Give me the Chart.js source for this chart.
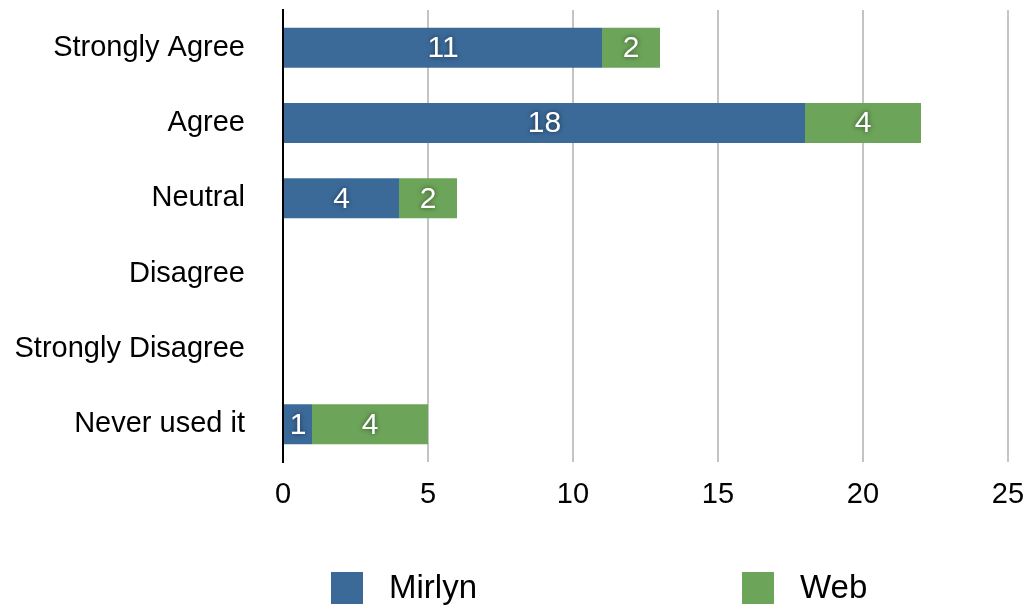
<!DOCTYPE html>
<html>
<head>
<meta charset="utf-8">
<script src="https://cdn.jsdelivr.net/npm/chart.js@4/dist/chart.umd.min.js"></script>
<style>
  html, body { margin: 0; padding: 0; background: #ffffff; }
  #wrap { width: 1026px; height: 608px; position: relative; }
</style>
</head>
<body>
<div id="wrap"><canvas id="grafico"></canvas></div>
<script>
// ---- datos del gráfico ----
const categorias = ['Strongly Agree', 'Agree', 'Neutral', 'Disagree', 'Strongly Disagree', 'Never used it'];
const valoresMirlyn = [11, 18, 4, 0, 0, 1];
const valoresWeb = [2, 4, 2, 0, 0, 4];
const ticksX = [0, 5, 10, 15, 20, 25];

const AZUL = 'rgb(59,106,153)';
const VERDE = 'rgb(108,164,89)';
const FUENTE = '"Liberation Sans", Arial, Helvetica, sans-serif';

// etiquetas blancas dentro de cada segmento
const etiquetasBarras = {
    id: 'etiquetasBarras',
    afterDatasetsDraw(chart) {
        const ctx = chart.ctx;
        ctx.save();
        ctx.font = '30px ' + FUENTE;
        ctx.fillStyle = '#ffffff';
        ctx.textAlign = 'center';
        ctx.textBaseline = 'middle';
        ctx.shadowColor = 'rgba(0,0,0,0.55)';
        ctx.shadowBlur = 5;
        chart.data.datasets.forEach((ds, i) => {
            chart.getDatasetMeta(i).data.forEach((bar, j) => {
                const v = ds.data[j];
                if (!v) return;
                const c = bar.getCenterPoint();
                ctx.fillText(String(v), c.x, c.y + 1);
            });
        });
        ctx.restore();
    }
};

// leyenda abajo, dos elementos separados
const leyendaAbajo = {
    id: 'leyendaAbajo',
    afterDraw(chart) {
        const ctx = chart.ctx;
        const posiciones = [0.3225, 0.7235];
        const y = chart.height - 20;
        ctx.save();
        ctx.font = '33px ' + FUENTE;
        ctx.textBaseline = 'middle';
        ctx.textAlign = 'left';
        chart.data.datasets.forEach((ds, i) => {
            const x = Math.round(chart.width * posiciones[i]);
            ctx.fillStyle = ds.backgroundColor;
            ctx.fillRect(x, y - 16, 32, 32);
            ctx.fillStyle = '#000000';
            ctx.fillText(ds.label, x + 58, y + 1);
        });
        ctx.restore();
    }
};

new Chart(document.getElementById('grafico'), {
    type: 'bar',
    data: {
        labels: categorias,
        datasets: [
            { label: 'Mirlyn', data: valoresMirlyn, backgroundColor: AZUL },
            { label: 'Web', data: valoresWeb, backgroundColor: VERDE }
        ]
    },
    options: {
        indexAxis: 'y',
        responsive: true,
        maintainAspectRatio: false,
        animation: false,
        datasets: { bar: { barPercentage: 0.53, categoryPercentage: 1 } },
        layout: { padding: { top: 10, right: 18, bottom: 96, left: 12 } },
        plugins: {
            legend: { display: false },
            tooltip: { enabled: false }
        },
        scales: {
            x: {
                stacked: true,
                min: 0,
                max: 25,
                afterBuildTicks: scale => { scale.ticks = ticksX.map(v => ({ value: v })); },
                afterFit: scale => {
                    scale.height = 50;
                    scale.paddingLeft = 0;
                    scale.paddingRight = 0;
                },
                ticks: { color: '#000', font: { size: 29, family: FUENTE }, padding: 16 },
                grid: {
                    color: c => (c.tick && c.tick.value === 0) ? 'rgba(0,0,0,0)' : '#c4c4c4',
                    lineWidth: 2,
                    drawTicks: false
                },
                border: { display: false }
            },
            y: {
                stacked: true,
                afterFit: scale => {
                    scale.width = 271;
                    scale.paddingTop = 0;
                    scale.paddingBottom = 0;
                },
                ticks: { color: '#000', font: { size: 29, family: FUENTE }, padding: 38 },
                grid: { display: false, drawTicks: false },
                border: { display: true, color: '#000000', width: 2 }
            }
        }
    },
    plugins: [etiquetasBarras, leyendaAbajo]
});
</script>
</body>
</html>
